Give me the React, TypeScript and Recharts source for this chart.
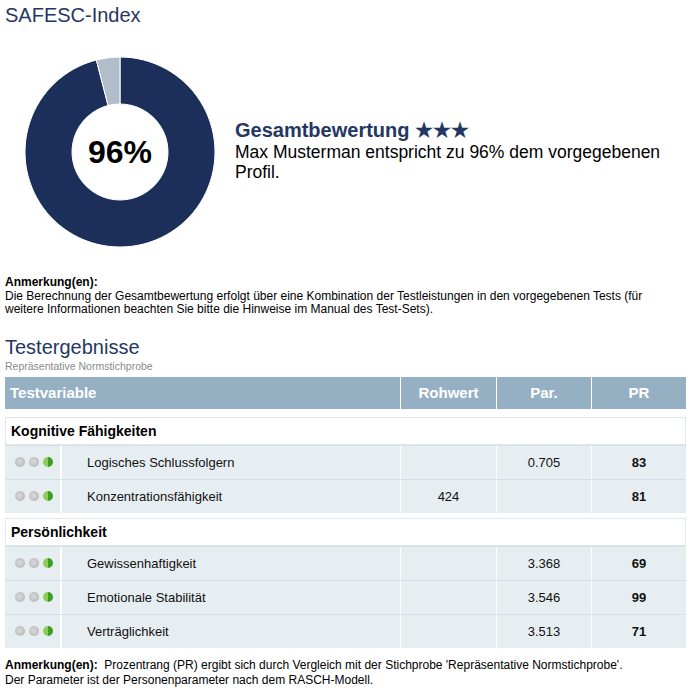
import React from 'react';
import { PieChart, Pie, Cell, Label } from 'recharts';

// donut values
const donutLabels = ['Übereinstimmung', 'Abweichung'];
const donutValues = [96, 4];
const donutColors = ['#1c2e5a', '#b2bdcc'];

// table data
const columnLabels = ['Testvariable', 'Rohwert', 'Par.', 'PR'];
const sectionNames = ['Kognitive Fähigkeiten', 'Persönlichkeit'];
const testNames = [
  'Logisches Schlussfolgern',
  'Konzentrationsfähigkeit',
  'Gewissenhaftigkeit',
  'Emotionale Stabilität',
  'Verträglichkeit',
];
const testSections = [0, 0, 1, 1, 1];
const rawScores = ['', '424', '', '', ''];
const paramScores = ['0.705', '', '3.368', '3.546', '3.513'];
const prScores = [83, 81, 69, 99, 71];

const FONT = '"Liberation Sans", Arial, Helvetica, sans-serif';
const NAVY = '#243763';

// column geometry: [left, width]
const COLS = [
  [0, 395],
  [396, 95],
  [492, 94],
  [587, 94],
];

function abs(top: number, left: number, extra: React.CSSProperties = {}): React.CSSProperties {
  return { position: 'absolute', top, left, ...extra };
}

function Dots() {
  const grey: React.CSSProperties = {
    width: 10,
    height: 10,
    borderRadius: '50%',
    background: 'radial-gradient(circle at 45% 45%, #d9d9d9 0%, #c6c6c6 50%, #a3a3a3 100%)',
    position: 'absolute',
    top: 11,
  };
  const green: React.CSSProperties = {
    ...grey,
    background: 'linear-gradient(90deg, #8fcc5c 0%, #8fcc5c 45%, #3f9d22 55%, #3f9d22 100%)',
  };
  return (
    <>
      <div style={{ ...grey, left: 10 }} />
      <div style={{ ...grey, left: 24 }} />
      <div style={{ ...green, left: 38 }} />
    </>
  );
}

function SectionRow({ top, name }: { top: number; name: string }) {
  return (
    <div
      style={abs(top, 0, {
        width: 681,
        height: 28,
        background: '#fff',
        border: '1px solid #dfe7ec',
        fontWeight: 'bold',
        fontSize: 14,
        lineHeight: '26px',
        paddingLeft: 5,
        boxSizing: 'border-box',
        color: '#000',
      })}
    >
      {name}
    </div>
  );
}

function DataRow({ top, index }: { top: number; index: number }) {
  const cell = (left: number, width: number, extra: React.CSSProperties = {}): React.CSSProperties => ({
    position: 'absolute',
    top: 0,
    left,
    width,
    height: 33,
    background: '#e7eef2',
    lineHeight: '33px',
    fontSize: 13,
    textAlign: 'center',
    color: '#111',
    ...extra,
  });
  return (
    <div style={abs(top, 0, { width: 681, height: 34, borderTop: '1px solid #d5dfe6' })}>
      <div style={cell(0, 55)}>
        <Dots />
      </div>
      <div style={cell(57, COLS[0][1] - 57, { textAlign: 'left', paddingLeft: 25, boxSizing: 'border-box' })}>
        {testNames[index]}
      </div>
      <div style={cell(COLS[1][0], COLS[1][1])}>{rawScores[index]}</div>
      <div style={cell(COLS[2][0], COLS[2][1])}>{paramScores[index]}</div>
      <div style={cell(COLS[3][0], COLS[3][1], { fontWeight: 'bold' })}>{prScores[index]}</div>
    </div>
  );
}

export default function App() {
  const donutData = donutLabels.map((name, i) => ({ name, value: donutValues[i] }));

  // vertical layout of table body
  const rows: React.ReactNode[] = [];
  let y = 40;
  sectionNames.forEach((sec, s) => {
    rows.push(<SectionRow key={`s-${s}`} top={y} name={sec} />);
    y += 28;
    testNames.forEach((_, i) => {
      if (testSections[i] !== s) return;
      rows.push(<DataRow key={`r-${i}`} top={y} index={i} />);
      y += 34;
    });
    y += 5;
  });

  return (
    <div
      style={{
        position: 'absolute',
        top: 0,
        left: 0,
        width: 693,
        height: 700,
        background: '#fff',
        fontFamily: FONT,
        color: '#000',
        overflow: 'hidden',
      }}
    >
      <div style={abs(3, 5, { fontSize: 20, lineHeight: '24px', color: NAVY })}>SAFESC-Index</div>

      <div style={abs(52, 20)}>
        <PieChart width={200} height={200} margin={{ top: 0, right: 0, bottom: 0, left: 0 }}>
          <Pie
            data={donutData}
            dataKey="value"
            nameKey="name"
            cx={100}
            cy={100}
            innerRadius={48}
            outerRadius={95}
            startAngle={90}
            endAngle={-270}
            stroke="#fff"
            strokeWidth={1}
            isAnimationActive={false}
          >
            {donutData.map((d, i) => (
              <Cell key={d.name} fill={donutColors[i]} />
            ))}
            <Label
              value={`${donutValues[0]}%`}
              position="center"
              fill="#000"
              fontSize={32}
              fontWeight="bold"
              fontFamily={FONT}
            />
          </Pie>
        </PieChart>
      </div>

      <div style={abs(119, 235, { fontSize: 20, lineHeight: '22px', fontWeight: 'bold', color: NAVY })}>
        Gesamtbewertung ★★★
      </div>
      <div style={abs(142, 235, { fontSize: 17.5, lineHeight: '20px', width: 440 })}>
        Max Musterman entspricht zu {donutValues[0]}% dem vorgegebenen Profil.
      </div>

      <div style={abs(276, 5, { fontSize: 12, lineHeight: '13.5px', width: 660 })}>
        <b>Anmerkung(en):</b>
        <br />
        Die Berechnung der Gesamtbewertung erfolgt über eine Kombination der Testleistungen in den vorgegebenen Tests (für
        weitere Informationen beachten Sie bitte die Hinweise im Manual des Test-Sets).
      </div>

      <div style={abs(335, 5, { fontSize: 20, lineHeight: '24px', color: NAVY })}>Testergebnisse</div>
      <div style={abs(359.5, 5, { fontSize: 10.5, lineHeight: '12px', color: '#8a8a8a' })}>
        Repräsentative Normstichprobe
      </div>

      <div style={abs(377, 5, { width: 681, height: 280 })}>
        {columnLabels.map((c, i) => (
          <div
            key={c}
            style={abs(0, COLS[i][0], {
              width: COLS[i][1],
              height: 32,
              background: '#96b0c3',
              color: '#fff',
              fontWeight: 'bold',
              fontSize: 15,
              lineHeight: '32px',
              textAlign: i === 0 ? 'left' : 'center',
              paddingLeft: i === 0 ? 5 : 0,
              boxSizing: 'border-box',
            })}
          >
            {c}
          </div>
        ))}
        {rows}
      </div>

      <div style={abs(658, 5, { fontSize: 12, lineHeight: '15px', width: 680 })}>
        <b>Anmerkung(en):</b>&nbsp; Prozentrang (PR) ergibt sich durch Vergleich mit der Stichprobe 'Repräsentative
        Normstichprobe'.
        <br />
        Der Parameter ist der Personenparameter nach dem RASCH-Modell.
      </div>
    </div>
  );
}
